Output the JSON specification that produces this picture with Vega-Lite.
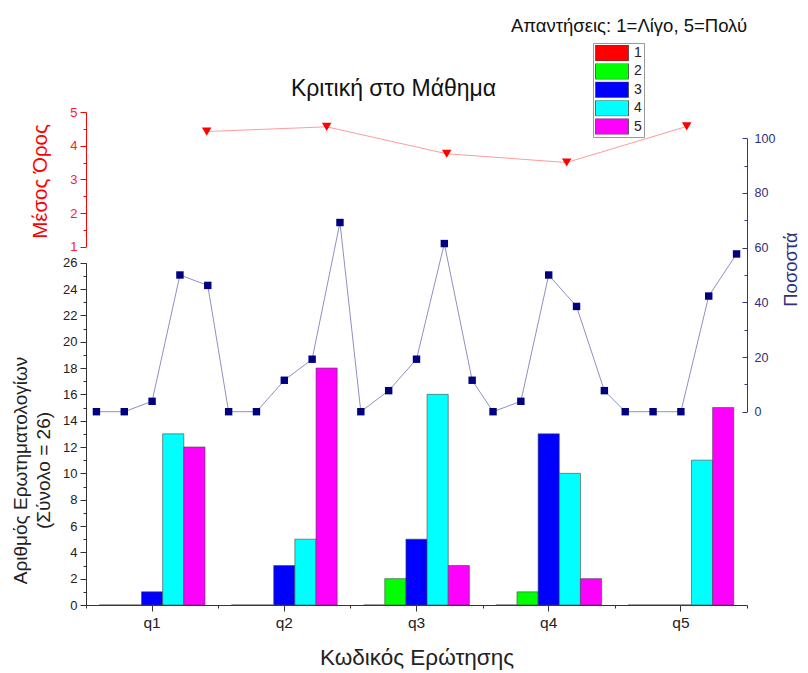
{
  "$schema": "https://vega.github.io/schema/vega-lite/v6.json",
  "width": 661,
  "height": 493,
  "autosize": {"type": "none"},
  "padding": {"left": 86, "top": 112, "right": 61, "bottom": 68},
  "background": "white",
  "config": {
    "font": "Liberation Sans",
    "view": {"stroke": null},
    "axis": {"grid": false, "titleFontWeight": "normal", "labelFontWeight": "normal"}
  },
  "title": {"text": "Απαντήσεις: 1=Λίγο, 5=Πολύ", "anchor": "end", "frame": "group", "fontSize": 18.5, "fontWeight": "normal", "color": "#111", "offset": 7},
  "datasets": {
    "bars": [
      {"question": "q1", "answer": "1", "count": 0, "pct": 0},
      {"question": "q1", "answer": "2", "count": 0, "pct": 0},
      {"question": "q1", "answer": "3", "count": 1, "pct": 3.8},
      {"question": "q1", "answer": "4", "count": 13, "pct": 50},
      {"question": "q1", "answer": "5", "count": 12, "pct": 46.2},
      {"question": "q2", "answer": "1", "count": 0, "pct": 0},
      {"question": "q2", "answer": "2", "count": 0, "pct": 0},
      {"question": "q2", "answer": "3", "count": 3, "pct": 11.5},
      {"question": "q2", "answer": "4", "count": 5, "pct": 19.2},
      {"question": "q2", "answer": "5", "count": 18, "pct": 69.2},
      {"question": "q3", "answer": "1", "count": 0, "pct": 0},
      {"question": "q3", "answer": "2", "count": 2, "pct": 7.7},
      {"question": "q3", "answer": "3", "count": 5, "pct": 19.2},
      {"question": "q3", "answer": "4", "count": 16, "pct": 61.5},
      {"question": "q3", "answer": "5", "count": 3, "pct": 11.5},
      {"question": "q4", "answer": "1", "count": 0, "pct": 0},
      {"question": "q4", "answer": "2", "count": 1, "pct": 3.8},
      {"question": "q4", "answer": "3", "count": 13, "pct": 50},
      {"question": "q4", "answer": "4", "count": 10, "pct": 38.5},
      {"question": "q4", "answer": "5", "count": 2, "pct": 7.7},
      {"question": "q5", "answer": "1", "count": 0, "pct": 0},
      {"question": "q5", "answer": "2", "count": 0, "pct": 0},
      {"question": "q5", "answer": "3", "count": 0, "pct": 0},
      {"question": "q5", "answer": "4", "count": 11, "pct": 42.3},
      {"question": "q5", "answer": "5", "count": 15, "pct": 57.7}
    ],
    "means": [
      {"question": "q1", "mean": 4.42},
      {"question": "q2", "mean": 4.56},
      {"question": "q3", "mean": 3.76},
      {"question": "q4", "mean": 3.5},
      {"question": "q5", "mean": 4.57}
    ]
  },
  "layer": [
    {
      "data": {"name": "bars"},
      "mark": {"type": "bar", "stroke": "#444444", "strokeWidth": 0.6},
      "encoding": {
        "x": {
          "field": "question", "type": "nominal",
          "scale": {"type": "band", "paddingInner": 0, "paddingOuter": 0},
          "axis": {"orient": "bottom", "title": "Κωδικός Ερώτησης", "labelAngle": 0, "labelFontSize": 15.5, "titleFontSize": 22.5, "tickSize": 6, "labelPadding": 4, "titlePadding": 16, "domainColor": "#333333", "tickColor": "#333333", "labelColor": "#222222", "titleColor": "#222222"}
        },
        "xOffset": {"field": "answer", "type": "nominal", "scale": {"paddingInner": 0, "paddingOuter": 0.625}},
        "y": {
          "field": "count", "type": "quantitative",
          "scale": {"domain": [0, 26], "range": [493, 150.7], "nice": false},
          "axis": {"orient": "left", "offset": 0, "values": [0, 2, 4, 6, 8, 10, 12, 14, 16, 18, 20, 22, 24, 26], "title": ["Αριθμός Ερωτηματολογίων", "(Σύνολο = 26)"], "titleFontSize": 19, "titleLineHeight": 23, "titleX": -66, "titleY": 358, "titleAngle": 270, "titleAlign": "center", "titleBaseline": "middle", "labelFontSize": 13, "tickSize": 6, "labelPadding": 3, "domainColor": "#333333", "tickColor": "#333333", "labelColor": "#222222", "titleColor": "#222222"}
        },
        "color": {
          "field": "answer", "type": "nominal",
          "scale": {"domain": ["1", "2", "3", "4", "5"], "range": ["#ff0000", "#00ff00", "#0000ff", "#00ffff", "#ff00ff"]},
          "legend": {"title": null, "orient": "none", "legendX": 507, "legendY": -69, "symbolType": "M-1,-0.485H1V0.485H-1Z", "symbolSize": 1089, "symbolStrokeColor": "#444444", "symbolStrokeWidth": 0.8, "clipHeight": 16, "rowPadding": 2.4, "labelFontSize": 14, "labelOffset": 5, "padding": 2, "strokeColor": "#999999", "fillColor": "white", "labelColor": "#222222"}
        }
      }
    },
    {
      "data": {"name": "bars"},
      "mark": {"type": "point", "opacity": 0},
      "encoding": {
        "x": {
          "field": "question", "type": "nominal",
          "scale": {"type": "band", "paddingInner": 0, "paddingOuter": 0},
          "axis": {"orient": "bottom", "tickBand": "extent", "labels": false, "domain": false, "tickSize": 3, "title": null, "tickColor": "#333333"}
        },
        "y": {
          "field": "count", "type": "quantitative",
          "scale": {"domain": [0, 26], "range": [493, 150.7], "nice": false},
          "axis": {"orient": "left", "offset": 0, "values": [1, 3, 5, 7, 9, 11, 13, 15, 17, 19, 21, 23, 25], "labels": false, "domain": false, "tickSize": 3, "title": null, "tickColor": "#333333"}
        }
      }
    },
    {
      "data": {"name": "bars"},
      "mark": {"type": "line", "color": "#8f8fc4", "strokeWidth": 1, "point": {"filled": true, "shape": "square", "color": "#000080", "size": 55, "opacity": 1}},
      "encoding": {
        "x": {
          "field": "question", "type": "nominal",
          "scale": {"type": "band", "paddingInner": 0, "paddingOuter": 0},
          "axis": null
        },
        "xOffset": {"field": "answer", "type": "nominal", "scale": {"paddingInner": 0, "paddingOuter": 0.375}},
        "y": {
          "field": "pct", "type": "quantitative",
          "scale": {"domain": [0, 100], "range": [299.7, 26.3], "nice": false},
          "axis": {"orient": "right", "offset": 0, "values": [0, 20, 40, 60, 80, 100], "title": "Ποσοστά", "titleFontSize": 18.5, "titleAngle": 270, "titleY": 157, "titleX": 43, "titleAlign": "center", "titleBaseline": "middle", "labelFontSize": 12.5, "tickSize": -5, "labelPadding": 12, "domainColor": "#35357f", "tickColor": "#35357f", "labelColor": "#2f2f7a", "titleColor": "#2f2f7a"}
        }
      }
    },
    {
      "data": {"name": "bars"},
      "mark": {"type": "point", "opacity": 0},
      "encoding": {
        "y": {
          "field": "pct", "type": "quantitative",
          "scale": {"domain": [0, 100], "range": [299.7, 26.3], "nice": false},
          "axis": {"orient": "right", "offset": 0, "values": [10, 30, 50, 70, 90], "labels": false, "domain": false, "tickSize": -3, "title": null, "tickColor": "#35357f"}
        }
      }
    },
    {
      "data": {"name": "means"},
      "mark": {"type": "line", "color": "#ff9c9c", "strokeWidth": 1, "point": {"filled": true, "shape": "triangle-down", "color": "#ff0000", "size": 90, "opacity": 1}},
      "encoding": {
        "x": {
          "field": "question", "type": "nominal",
          "scale": {"type": "point", "range": [120.7, 600.7], "padding": 0},
          "axis": {"orient": "top", "domain": false, "ticks": false, "labels": false, "title": "Κριτική στο Μάθημα", "titleX": 307, "titleY": -24, "titleAngle": 0, "titleAlign": "center", "titleBaseline": "middle", "titleFontSize": 23, "titleColor": "#111111"}
        },
        "y": {
          "field": "mean", "type": "quantitative",
          "scale": {"domain": [1, 5], "range": [134.7, 0], "nice": false, "zero": false},
          "axis": {"orient": "left", "offset": 0, "values": [1, 2, 3, 4, 5], "title": "Μέσος Όρος", "titleFontSize": 20.5, "titleAngle": 270, "titleX": -46, "titleY": 69, "titleAlign": "center", "titleBaseline": "middle", "labelFontSize": 13, "tickSize": 6, "labelPadding": 3, "domainColor": "#ff0000", "tickColor": "#ff0000", "labelColor": "#ff2020", "titleColor": "#ff0000"}
        }
      }
    },
    {
      "data": {"name": "means"},
      "mark": {"type": "point", "opacity": 0},
      "encoding": {
        "y": {
          "field": "mean", "type": "quantitative",
          "scale": {"domain": [1, 5], "range": [134.7, 0], "nice": false, "zero": false},
          "axis": {"orient": "left", "offset": 0, "values": [1.5, 2.5, 3.5, 4.5], "labels": false, "domain": false, "tickSize": 3, "title": null, "tickColor": "#ff0000"}
        }
      }
    }
  ],
  "resolve": {"scale": {"x": "independent", "y": "independent", "xOffset": "independent"}}
}
